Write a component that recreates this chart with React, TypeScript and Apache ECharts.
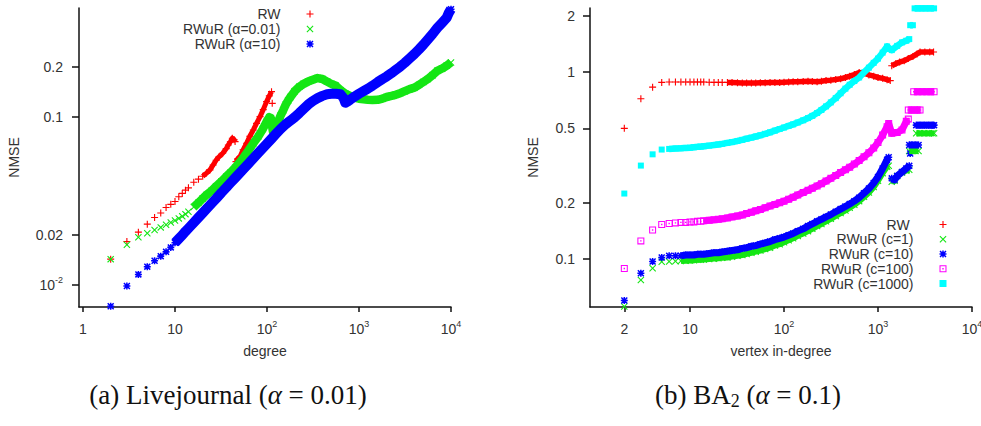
import React, { useEffect, useRef } from 'react';
import * as echarts from 'echarts';

// ---------- (a) Livejournal, alpha = 0.01 : [degree, NMSE] ----------
const ljRw: [number, number][] = [
  [2, 0.0143], [3, 0.0182], [4, 0.0207], [5, 0.0231], [6, 0.0253], [7, 0.0269], [8, 0.029],
  [9, 0.0303], [10, 0.0315], [11, 0.0336], [12, 0.0352], [13, 0.0368], [14, 0.038], [16, 0.041],
  [18, 0.0428], [20, 0.0445], [22, 0.0465], [24, 0.0486], [26, 0.052], [28, 0.0555], [30, 0.058],
  [33, 0.061], [36, 0.065], [38, 0.0684], [40, 0.0715], [42, 0.075], [44, 0.0735], [45, 0.0716],
  [46, 0.0544], [48, 0.0565], [51, 0.0583], [55, 0.064], [60, 0.07], [65, 0.077], [71, 0.084],
  [77, 0.092], [84, 0.1008], [91, 0.111], [99, 0.1239], [106, 0.134], [112, 0.142], [114, 0.121],
];

const ljRwurSmallAlpha: [number, number][] = [
  [2, 0.0143], [3, 0.0174], [4, 0.0193], [5, 0.0204], [6, 0.0213], [7, 0.0221], [8, 0.0229],
  [9, 0.0236], [10, 0.0243], [11, 0.025], [12, 0.0257], [13, 0.0265], [14, 0.0274], [16, 0.0292],
  [18, 0.031], [20, 0.0328], [22, 0.0345], [25, 0.0365], [28, 0.0388], [32, 0.0415], [36, 0.0443],
  [40, 0.0468], [45, 0.05], [50, 0.0535], [56, 0.058], [63, 0.0635], [71, 0.07], [80, 0.0765],
  [90, 0.085], [100, 0.095], [106, 0.1], [110, 0.099], [113, 0.09], [116, 0.082], [120, 0.084],
  [125, 0.088], [132, 0.094], [140, 0.102], [150, 0.11], [160, 0.119], [170, 0.126], [180, 0.132],
  [200, 0.143], [225, 0.152], [250, 0.158], [280, 0.163], [315, 0.167], [355, 0.171], [400, 0.169],
  [450, 0.163], [500, 0.158], [560, 0.154], [630, 0.145], [710, 0.138], [800, 0.134], [900, 0.131],
  [1000, 0.129], [1120, 0.128], [1250, 0.127], [1400, 0.1265], [1600, 0.127], [1800, 0.129],
  [2000, 0.132], [2250, 0.134], [2500, 0.136], [2800, 0.139], [3150, 0.143], [3550, 0.147],
  [4000, 0.15], [4500, 0.156], [5000, 0.162], [5600, 0.169], [6300, 0.178], [7100, 0.189],
  [8000, 0.195], [9000, 0.203], [10000, 0.212],
];

const ljRwurLargeAlpha: [number, number][] = [
  [2, 0.0075], [3, 0.0099], [4, 0.0116], [5, 0.0129], [6, 0.014], [7, 0.0149], [8, 0.0158],
  [9, 0.0168], [10, 0.0179], [11, 0.0189], [12, 0.0199], [13, 0.0209], [14, 0.0218], [16, 0.0236],
  [18, 0.0253], [20, 0.0269], [22, 0.0285], [25, 0.0307], [28, 0.0328], [32, 0.0356], [36, 0.0381],
  [40, 0.0406], [45, 0.0435], [50, 0.0462], [56, 0.0494], [63, 0.053], [71, 0.0569], [80, 0.0611],
  [90, 0.0655], [100, 0.0697], [112, 0.0745], [125, 0.0796], [140, 0.085], [160, 0.091],
  [180, 0.0955], [200, 0.1], [225, 0.106], [250, 0.112], [280, 0.119], [315, 0.125], [355, 0.13],
  [400, 0.134], [450, 0.137], [500, 0.138], [560, 0.138], [630, 0.137], [680, 0.13], [710, 0.122],
  [750, 0.124], [800, 0.127], [900, 0.133], [1000, 0.138], [1120, 0.143], [1250, 0.148],
  [1400, 0.154], [1600, 0.162], [1800, 0.169], [2000, 0.175], [2250, 0.183], [2500, 0.191],
  [2800, 0.2], [3150, 0.211], [3550, 0.224], [4000, 0.238], [4500, 0.254], [5000, 0.27],
  [5600, 0.29], [6300, 0.313], [7100, 0.34], [8000, 0.365], [9000, 0.392], [9500, 0.42],
  [10000, 0.44],
];

// ---------- (b) BA2, alpha = 0.1 : [vertex in-degree, NMSE] ----------
const baRw: [number, number][] = [
  [2, 0.5], [3, 0.72], [4, 0.83], [5, 0.88], [6, 0.885], [7, 0.885], [8, 0.885], [9, 0.885],
  [10, 0.885], [11, 0.885], [12, 0.885], [13, 0.885], [14, 0.885], [16, 0.882], [18, 0.88],
  [20, 0.88], [22, 0.88], [25, 0.88], [28, 0.878], [32, 0.876], [36, 0.875], [40, 0.875],
  [45, 0.875], [50, 0.875], [56, 0.876], [63, 0.877], [71, 0.878], [80, 0.88], [90, 0.88],
  [100, 0.882], [112, 0.884], [125, 0.886], [140, 0.888], [160, 0.89], [180, 0.892], [200, 0.89],
  [225, 0.888], [250, 0.893], [280, 0.9], [315, 0.905], [355, 0.912], [400, 0.92], [450, 0.935],
  [500, 0.95], [560, 0.97], [630, 0.995], [710, 0.985], [800, 0.965], [900, 0.95], [1000, 0.935],
  [1120, 0.925], [1250, 0.91], [1350, 0.9], [1400, 1.08], [1550, 1.11], [1700, 1.13],
  [1900, 1.15], [2100, 1.18], [2350, 1.21], [2600, 1.25], [2800, 1.28], [3150, 1.28],
  [3550, 1.28], [3900, 1.28],
];

const baC1: [number, number][] = [
  [2, 0.0558], [3, 0.0772], [4, 0.0892], [5, 0.0967], [6, 0.097], [7, 0.0972], [8, 0.0975],
  [9, 0.098], [10, 0.0982], [11, 0.0985], [12, 0.099], [13, 0.099], [14, 0.0995], [16, 0.1],
  [18, 0.1005], [20, 0.101], [22, 0.1015], [25, 0.102], [28, 0.103], [32, 0.104], [36, 0.105],
  [40, 0.1065], [45, 0.108], [50, 0.1095], [56, 0.111], [63, 0.113], [71, 0.115], [80, 0.118],
  [90, 0.12], [100, 0.123], [112, 0.126], [125, 0.129], [140, 0.133], [160, 0.137], [180, 0.141],
  [200, 0.145], [225, 0.15], [250, 0.154], [280, 0.159], [315, 0.164], [355, 0.17], [400, 0.176],
  [450, 0.182], [500, 0.188], [560, 0.195], [630, 0.204], [710, 0.215], [800, 0.227],
  [900, 0.243], [1000, 0.262], [1120, 0.288], [1250, 0.312], [1300, 0.315], [1400, 0.259],
  [1500, 0.262], [1600, 0.278], [1800, 0.29], [2000, 0.297], [2150, 0.3], [2150, 0.378],
  [2300, 0.378], [2500, 0.378], [2700, 0.378], [2550, 0.47], [2800, 0.47], [3100, 0.47],
  [3450, 0.47], [3800, 0.47], [3950, 0.47],
];

const baC10: [number, number][] = [
  [2, 0.06], [3, 0.084], [4, 0.097], [5, 0.102], [6, 0.104], [7, 0.104], [8, 0.104], [9, 0.105],
  [10, 0.105], [11, 0.105], [12, 0.106], [13, 0.106], [14, 0.106], [16, 0.107], [18, 0.108],
  [20, 0.108], [22, 0.109], [25, 0.11], [28, 0.111], [32, 0.112], [36, 0.114], [40, 0.115],
  [45, 0.117], [50, 0.118], [56, 0.12], [63, 0.122], [71, 0.124], [80, 0.127], [90, 0.129],
  [100, 0.131], [112, 0.134], [125, 0.137], [140, 0.141], [160, 0.145], [180, 0.15], [200, 0.154],
  [225, 0.159], [250, 0.163], [280, 0.168], [315, 0.173], [355, 0.179], [400, 0.185], [450, 0.191],
  [500, 0.197], [560, 0.204], [630, 0.213], [710, 0.225], [800, 0.238], [900, 0.255],
  [1000, 0.275], [1120, 0.305], [1250, 0.34], [1300, 0.35], [1400, 0.27], [1500, 0.265],
  [1600, 0.278], [1800, 0.292], [2000, 0.305], [2150, 0.315], [2200, 0.367], [2150, 0.407],
  [2300, 0.407], [2500, 0.407], [2700, 0.407], [2550, 0.52], [2800, 0.52], [3100, 0.52],
  [3450, 0.52], [3800, 0.52], [3950, 0.52],
];

const baC100: [number, number][] = [
  [2, 0.089], [3, 0.125], [4, 0.143], [5, 0.153], [6, 0.155], [7, 0.156], [8, 0.157], [9, 0.157],
  [10, 0.158], [11, 0.158], [12, 0.159], [13, 0.159], [14, 0.16], [16, 0.161], [18, 0.162],
  [20, 0.163], [22, 0.164], [25, 0.166], [28, 0.168], [32, 0.17], [36, 0.172], [40, 0.175],
  [45, 0.178], [50, 0.181], [56, 0.184], [63, 0.188], [71, 0.192], [80, 0.196], [90, 0.2],
  [100, 0.204], [112, 0.209], [125, 0.214], [140, 0.22], [160, 0.227], [180, 0.233], [200, 0.239],
  [225, 0.246], [250, 0.253], [280, 0.261], [315, 0.27], [355, 0.28], [400, 0.29], [450, 0.3],
  [500, 0.31], [560, 0.322], [630, 0.336], [710, 0.352], [800, 0.37], [900, 0.392], [1000, 0.42],
  [1120, 0.46], [1250, 0.51], [1300, 0.53], [1400, 0.47], [1600, 0.475], [1800, 0.49],
  [2000, 0.545], [2100, 0.56], [2100, 0.626], [2250, 0.626], [2450, 0.626], [2650, 0.626],
  [2800, 0.626], [2400, 0.785], [2650, 0.785], [2950, 0.785], [3300, 0.785], [3650, 0.785],
  [3950, 0.785],
];

const baC1000: [number, number][] = [
  [2, 0.224], [3, 0.316], [4, 0.363], [5, 0.385], [6, 0.388], [7, 0.39], [8, 0.391], [9, 0.393],
  [10, 0.394], [11, 0.396], [12, 0.398], [13, 0.399], [14, 0.401], [16, 0.404], [18, 0.407],
  [20, 0.41], [22, 0.413], [25, 0.418], [28, 0.422], [32, 0.428], [36, 0.434], [40, 0.44],
  [45, 0.446], [50, 0.452], [56, 0.459], [63, 0.467], [71, 0.476], [80, 0.486], [90, 0.496],
  [100, 0.505], [112, 0.515], [125, 0.525], [140, 0.537], [160, 0.552], [180, 0.567], [200, 0.583],
  [225, 0.604], [250, 0.627], [280, 0.655], [315, 0.688], [355, 0.725], [400, 0.77], [450, 0.815],
  [500, 0.855], [560, 0.895], [630, 0.935], [710, 0.995], [800, 1.055], [900, 1.12], [1000, 1.18],
  [1120, 1.27], [1250, 1.37], [1400, 1.31], [1600, 1.38], [1800, 1.44], [2000, 1.47],
  [2150, 1.5], [2200, 1.78], [2350, 1.78], [2450, 2.19], [2650, 2.19], [2900, 2.19],
  [3200, 2.19], [3550, 2.19], [3950, 2.19],
];

// ---------- tick positions ----------
const ljDegreeTicks = [1, 10, 100, 1000, 10000];
const ljNmseTicks = [0.01, 0.02, 0.1, 0.2];
const baDegreeTicks = [2, 10, 100, 1000, 10000];
const baNmseTicks = [0.1, 0.2, 0.5, 1, 2];

// ---------- styling ----------
const SANS = "'Liberation Sans', Arial, Helvetica, sans-serif";
const SERIF = "'Liberation Serif', 'Times New Roman', serif";
const TEXT = '#333333';
const AXIS = '#111111';
const FS = 14;

const RED = '#ff0000';
const GREEN = '#14e614';
const BLUE = '#0000ff';
const MAGENTA = '#ff00ff';
const CYAN = '#00ffff';

// marker glyphs on a 10x10 box (filled outlines)
const PLUS_D = 'M4.2,0H5.8V4.2H10V5.8H5.8V10H4.2V5.8H0V4.2H4.2Z';
const CROSS_D = 'M1.1,0L5,3.9L8.9,0L10,1.1L6.1,5L10,8.9L8.9,10L5,6.1L1.1,10L0,8.9L3.9,5L0,1.1Z';
const THICK_PLUS_D = 'M3.9,0H6.1V3.9H10V6.1H6.1V10H3.9V6.1H0V3.9H3.9Z';
const THICK_CROSS_D = 'M1.5,0L5,3.5L8.5,0L10,1.5L6.5,5L10,8.5L8.5,10L5,6.5L1.5,10L0,8.5L3.5,5L0,1.5Z';
const PLUS = 'path://' + PLUS_D;
const CROSS = 'path://' + CROSS_D;
const STAR = 'path://' + THICK_PLUS_D + ' ' + THICK_CROSS_D;
const OPEN_BOX = 'path://M0,0H10V10H0Z M1.5,1.5V8.5H8.5V1.5Z M4,4H6V6H4Z';
const FILLED_BOX = 'path://M0,0H10V10H0Z';

const RICH = {
  b: { fontFamily: SANS, fontSize: FS, lineHeight: 20, verticalAlign: 'middle', color: TEXT },
  s: { fontFamily: SANS, fontSize: 9, lineHeight: 10, verticalAlign: 'top', color: TEXT },
};

const isPow10 = (v: number) => Math.abs(Math.log10(v) - Math.round(Math.log10(v))) < 1e-6;
const plain = (v: number) => String(+v.toPrecision(6));

const degreeLabel = (v: number) => {
  const p = Math.round(Math.log10(v));
  if (isPow10(v) && p >= 2) return `{b|10}{s|${p}}`;
  return `{b|${plain(v)}}`;
};
const ljNmseLabel = (v: number) => {
  const p = Math.round(Math.log10(v));
  if (isPow10(v) && p <= -2) return `{b|10}{s|${p}}`;
  return `{b|${plain(v)}}`;
};
const baNmseLabel = (v: number) => `{b|${plain(v)}}`;

function logAxis(cfg: {
  grid: number; min: number; max: number; ticks: number[]; fmt: (v: number) => string;
  name: string; nameGap: number; isX: boolean; margin: number;
}) {
  return {
    type: 'log',
    logBase: 10,
    gridIndex: cfg.grid,
    min: cfg.min,
    max: cfg.max,
    name: cfg.name,
    nameLocation: 'middle',
    nameGap: cfg.nameGap,
    nameTextStyle: { fontFamily: SANS, fontSize: FS, color: TEXT },
    axisLine: { show: true, onZero: false, lineStyle: { color: AXIS, width: 1.5 } },
    axisTick: {
      show: true,
      inside: false,
      length: cfg.isX ? 5 : 7,
      customValues: cfg.ticks,
      lineStyle: { color: AXIS, width: 1.5 },
    },
    axisLabel: {
      show: true,
      customValues: cfg.ticks,
      margin: cfg.margin,
      formatter: (v: number) => cfg.fmt(v),
      rich: RICH,
      color: TEXT,
      fontFamily: SANS,
      fontSize: FS,
      showMinLabel: true,
      showMaxLabel: true,
      hideOverlap: false,
    },
    splitLine: { show: false },
    minorTick: { show: false },
    minorSplitLine: { show: false },
  };
}

// Split a series into continuous stretches (from `fromDegree` on) so that the
// densely sampled part of each curve can be drawn as a solid band.
function stretches(data: [number, number][], fromDegree: number) {
  const out: [number, number][][] = [];
  let cur: [number, number][] = [];
  for (const p of data) {
    if (p[0] < fromDegree) continue;
    const prev = cur[cur.length - 1];
    if (prev && (p[0] <= prev[0] || Math.abs(Math.log10(p[1] / prev[1])) > 0.06)) {
      out.push(cur);
      cur = [];
    }
    cur.push(p);
  }
  if (cur.length) out.push(cur);
  return out.filter((r) => r.length > 1);
}

function curve(
  name: string, data: [number, number][], idx: number, symbol: string, size: number,
  color: string, bandFrom: number, bandWidth: number,
) {
  const bands = stretches(data, bandFrom).map((run, i) => ({
    type: 'line',
    name: `${name} band ${i}`,
    data: run,
    xAxisIndex: idx,
    yAxisIndex: idx,
    showSymbol: false,
    symbol: 'none',
    lineStyle: { color, width: bandWidth, cap: 'butt', join: 'round' },
    silent: true,
    clip: false,
  }));
  const points = {
    type: 'scatter',
    name,
    data,
    xAxisIndex: idx,
    yAxisIndex: idx,
    symbol,
    symbolSize: size,
    itemStyle: { color, opacity: 1 },
    clip: false,
    silent: true,
  };
  return [...bands, points];
}

const legendBase = {
  orient: 'vertical',
  align: 'right',
  itemWidth: 7,
  itemHeight: 7,
  padding: 0,
  selectedMode: false,
  textStyle: { fontFamily: SANS, fontSize: FS, lineHeight: 14, color: TEXT, padding: [0, 21, 0, 0] },
};

const option = {
  animation: false,
  backgroundColor: '#ffffff',
  grid: [
    { left: 79, top: 8, width: 372, height: 299, containLabel: false, outerBoundsMode: 'none' },
    { left: 590, top: 8, width: 382, height: 299, containLabel: false, outerBoundsMode: 'none' },
  ],
  xAxis: [
    logAxis({ grid: 0, min: 0.905, max: 10000, ticks: ljDegreeTicks, fmt: degreeLabel, name: 'degree', nameGap: 37, isX: true, margin: 12 }),
    logAxis({ grid: 1, min: 0.863, max: 10000, ticks: baDegreeTicks, fmt: degreeLabel, name: 'vertex in-degree', nameGap: 37, isX: true, margin: 12 }),
  ],
  yAxis: [
    logAxis({ grid: 0, min: 0.00742, max: 0.447, ticks: ljNmseTicks, fmt: ljNmseLabel, name: 'NMSE', nameGap: 58, isX: false, margin: 16 }),
    logAxis({ grid: 1, min: 0.0554, max: 2.2, ticks: baNmseTicks, fmt: baNmseLabel, name: 'NMSE', nameGap: 50, isX: false, margin: 15 }),
  ],
  legend: [
    {
      ...legendBase,
      right: 667.5,
      top: 7,
      itemGap: 1,
      data: [
        { name: 'RW', icon: PLUS },
        { name: 'RWuR (α=0.01)', icon: CROSS },
        { name: 'RWuR (α=10)', icon: STAR },
      ],
    },
    {
      ...legendBase,
      right: 34.5,
      top: 217.5,
      itemGap: 0.75,
      data: [
        { name: 'RW ', icon: PLUS },
        { name: 'RWuR (c=1)', icon: CROSS },
        { name: 'RWuR (c=10)', icon: STAR },
        { name: 'RWuR (c=100)', icon: OPEN_BOX },
        { name: 'RWuR (c=1000)', icon: FILLED_BOX },
      ],
    },
  ],
  series: [
    ...curve('RW', ljRw, 0, PLUS, 7, RED, 20, 5),
    ...curve('RWuR (α=0.01)', ljRwurSmallAlpha, 0, CROSS, 7, GREEN, 16, 8.5),
    ...curve('RWuR (α=10)', ljRwurLargeAlpha, 0, STAR, 7, BLUE, 10, 10),
    ...curve('RW ', baRw, 1, PLUS, 7, RED, 25, 5.5),
    ...curve('RWuR (c=1)', baC1, 1, CROSS, 7, GREEN, 8, 6),
    ...curve('RWuR (c=10)', baC10, 1, STAR, 7, BLUE, 8, 7),
    ...curve('RWuR (c=100)', baC100, 1, OPEN_BOX, 7, MAGENTA, 14, 7),
    ...curve('RWuR (c=1000)', baC1000, 1, FILLED_BOX, 6, CYAN, 6, 6.5),
  ],
  graphic: [
    {
      type: 'text',
      x: 228,
      y: 395,
      style: {
        text: '{r|(a) Livejournal (}{i|α}{r| = 0.01)}',
        align: 'center',
        verticalAlign: 'middle',
        rich: {
          r: { fontFamily: SERIF, fontSize: 27, lineHeight: 30, fill: '#111' },
          i: { fontFamily: SERIF, fontSize: 27, lineHeight: 30, fontStyle: 'italic', fill: '#111' },
        },
      },
    },
    {
      type: 'text',
      x: 748,
      y: 395,
      style: {
        text: '{r|(b) BA}{sub|2}{r| (}{i|α}{r| = 0.1)}',
        align: 'center',
        verticalAlign: 'middle',
        rich: {
          r: { fontFamily: SERIF, fontSize: 27, lineHeight: 30, fill: '#111' },
          i: { fontFamily: SERIF, fontSize: 27, lineHeight: 30, fontStyle: 'italic', fill: '#111' },
          sub: { fontFamily: SERIF, fontSize: 18, lineHeight: 20, verticalAlign: 'bottom', fill: '#111' },
        },
      },
    },
  ],
};

export default function App() {
  const ref = useRef<HTMLDivElement>(null);
  useEffect(() => {
    if (!ref.current) return;
    const chart = echarts.init(ref.current, null, { renderer: 'svg' });
    chart.setOption(option as any);
    return () => chart.dispose();
  }, []);
  return (
    <div
      ref={ref}
      style={{ position: 'fixed', left: 0, top: 0, width: 981, height: 426, background: '#fff' }}
    />
  );
}
